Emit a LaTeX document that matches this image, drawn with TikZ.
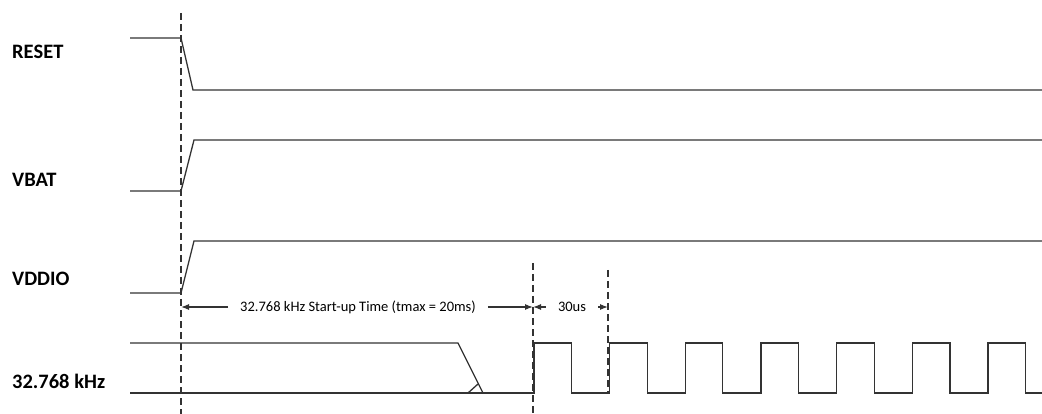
\documentclass[tikz,border=0pt]{standalone}
\usepackage{fontspec}
\setmainfont{Carlito}
\usetikzlibrary{arrows.meta}
\definecolor{wire}{HTML}{333333}
\tikzset{
  sig/.style={draw=wire, line width=1.3pt, line join=miter},
  guide/.style={draw=wire, line width=1.1pt, dash pattern=on 7pt off 4pt},
  dim/.style={draw=wire, line width=1.1pt, -{Latex[length=8pt,width=6pt]}},
  lab/.style={anchor=base west, inner sep=0pt, font=\fontsize{20.5}{24}\selectfont\bfseries},
  note/.style={inner ysep=0pt, font=\fontsize{14.5}{17}\selectfont},
}
\begin{document}
\begin{tikzpicture}[x=1pt, y=-1pt]
  \useasboundingbox (0,0) rectangle (1042,414);
  % signal names
  \node[lab] (reset) at (12,59) {RESET};
  \node[lab] (vbat) at (12,187) {VBAT};
  \node[lab] (vddio) at (12,286) {VDDIO};
  \node[lab] (clk) at (12,388) {32.768 kHz};
  % timing marks
  \coordinate (t0) at (181,307);
  \coordinate (t1) at (533,307);
  \coordinate (t2) at (608,307);
  \draw[guide] (181,13) -- (181,414);
  \draw[guide] (533,263) -- (533,414);
  \draw[guide] (608,270) -- (608,393);
  % waveforms
  \draw[sig] (130,38) -- (181,38) -- (193,90) -- (1042,90);
  \draw[sig] (130,191) -- (181,191) -- (194,140) -- (1042,140);
  \draw[sig] (130,293) -- (181,293) -- (194,241) -- (1042,241);
  \draw[sig] (130,343) -- (458,343) -- (483,393);
  \draw[sig] (468,393) -- (478,384);
  \draw[sig] (130,393) -- (534,393)
    \foreach \i in {0,...,5} { -- ++(0,-50) -- ++(37.5,0) -- ++(0,50) -- ++(38.17,0) }
    -- ++(0,-50) -- ++(37.5,0) -- ++(0,50) -- (1042,393);
  % durations
  \node[note, inner xsep=12pt] (startup) at (358,307) {32.768 kHz Start-up Time (tmax = 20ms)};
  \node[note, inner xsep=12pt] (settle) at (572,307) {30us};
  \draw[dim] (startup.west |- t0) -- (t0);
  \draw[dim] (startup.east |- t1) -- (t1);
  \draw[dim] (settle.west |- t1) -- (t1);
  \draw[dim] (settle.east |- t2) -- (t2);
\end{tikzpicture}
\end{document}
